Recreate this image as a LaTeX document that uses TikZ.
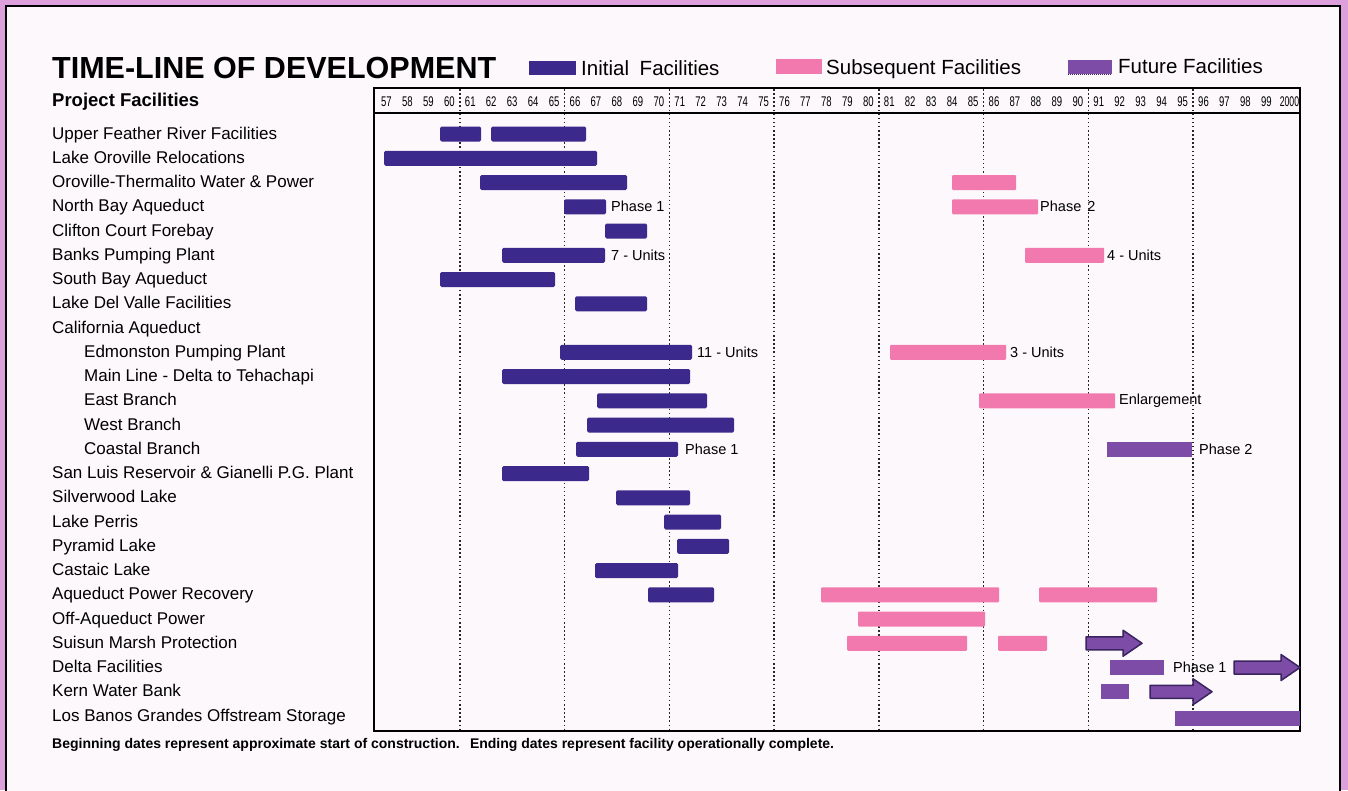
\documentclass[tikz,border=0pt]{standalone}
\usepackage{fontspec}
\setmainfont{Liberation Sans}
\definecolor{cPink}{HTML}{DDA0DD}
\definecolor{cPanel}{HTML}{FCF8FB}
\definecolor{cInit}{HTML}{3B2A8C}
\definecolor{cSub}{HTML}{F279AE}
\definecolor{cFut}{HTML}{7D4CA6}
\definecolor{cFutEdge}{HTML}{3A2460}
% bar on row #2 from x=#3 to x=#4 in style #1
\newcommand\gbar[4]{\path[#1] (#3,{134+24.25*#2-7.5}) rectangle (#4,{134+24.25*#2+7.5});}
% block arrow on row #1 from x=#2 to tip x=#3
\newcommand\garrow[3]{\path[futarrow] (#2,{134+24.25*#1-6.5}) -- ({#3-19},{134+24.25*#1-6.5}) -- ({#3-19},{134+24.25*#1-13}) -- (#3,{134+24.25*#1}) -- ({#3-19},{134+24.25*#1+13}) -- ({#3-19},{134+24.25*#1+6.5}) -- (#2,{134+24.25*#1+6.5}) -- cycle;}
% note beside a bar
\newcommand\barnote[4]{\node[notetext] (#1) at (#3,{134+24.25*#2}) {#4};}
% facility name on row #2
\newcommand\rowname[4]{\node[rowlabel] (#1) at (#3,{133+24.25*#2+6}) {#4};}
\begin{document}
\begin{tikzpicture}[x=1pt,y=-1pt,
  initial/.style={fill=cInit, rounded corners=1.5pt},
  subseq/.style={fill=cSub, rounded corners=1pt},
  future/.style={fill=cFut},
  futarrow/.style={fill=cFut, draw=cFutEdge, line width=1.5pt, line join=round},
  grid line/.style={line width=1.5pt, dash pattern=on 1.5pt off 2.6pt, color=black!85},
  rowlabel/.style={anchor=base west, inner sep=0pt, font=\fontsize{17}{20}\selectfont},
  notetext/.style={anchor=west, inner sep=0pt, font=\fontsize{14.5}{17}\selectfont},
  yearlabel/.style={anchor=base, inner sep=0pt, font=\fontsize{14}{17}\selectfont},
  legendtext/.style={anchor=base west, inner sep=0pt, font=\fontsize{20.5}{24}\selectfont},
]
\useasboundingbox (0,0) rectangle (1348,790);

% page background and white panel
\fill[cPink] (0,0) rectangle (1348,790);
\fill[cPanel] (6,6) rectangle (1340,795);
\draw[line width=1.6pt] (6,795) -- (6,6) -- (1340,6) -- (1340,795);

% headings
\node[anchor=base west, inner sep=0pt, font=\fontsize{30.5}{34}\selectfont\bfseries] (title) at (52,78) {TIME-LINE OF DEVELOPMENT};
\node[anchor=base west, inner sep=0pt, font=\fontsize{18.5}{22}\selectfont\bfseries] (colhead) at (52,106) {Project Facilities};

% legend
\fill[cInit] (529,61) rectangle (576,75);
\node[legendtext] (leginit) at (581,75) {Initial\hspace{5pt} Facilities};
\fill[cSub] (776,59) rectangle (822,74);
\node[legendtext] (legsub) at (826,74) {Subsequent Facilities};
\fill[cFut] (1068,60) rectangle (1112,74);
\draw[cFutEdge, line width=1pt, dash pattern=on 1pt off 1pt] (1068,74) -- (1112,74);
\node[legendtext] (legfut) at (1118,73) {Future Facilities};

% year axis
\foreach \yr in {57,...,99}
  \node[yearlabel] (yr\yr) at ({376+(\yr-57+0.5)*20.95},106) {\scalebox{0.68}[1]{\yr}};
\node[yearlabel] (yr100) at ({376+43.6*20.95},106) {\scalebox{0.62}[1]{2000}};

% five-year grid
\foreach \yr in {61,66,...,96}
  \draw[grid line] ({376+(\yr-57)*20.95},89) -- ({376+(\yr-57)*20.95},730);

% chart frame
\draw[line width=2.2pt] (374,88) rectangle (1300,731);
\draw[line width=1.8pt] (374,113) -- (1300,113);

% facility names
\rowname{n0}{0}{52}{Upper Feather River Facilities}
\rowname{n1}{1}{52}{Lake Oroville Relocations}
\rowname{n2}{2}{52}{Oroville-Thermalito Water \& Power}
\rowname{n3}{3}{52}{North Bay Aqueduct}
\rowname{n4}{4}{52}{Clifton Court Forebay}
\rowname{n5}{5}{52}{Banks Pumping Plant}
\rowname{n6}{6}{52}{South Bay Aqueduct}
\rowname{n7}{7}{52}{Lake Del Valle Facilities}
\rowname{n8}{8}{52}{California Aqueduct}
\rowname{n9}{9}{84}{Edmonston Pumping Plant}
\rowname{n10}{10}{84}{Main Line - Delta to Tehachapi}
\rowname{n11}{11}{84}{East Branch}
\rowname{n12}{12}{84}{West Branch}
\rowname{n13}{13}{84}{Coastal Branch}
\rowname{n14}{14}{52}{San Luis Reservoir \& Gianelli P.G. Plant}
\rowname{n15}{15}{52}{Silverwood Lake}
\rowname{n16}{16}{52}{Lake Perris}
\rowname{n17}{17}{52}{Pyramid Lake}
\rowname{n18}{18}{52}{Castaic Lake}
\rowname{n19}{19}{52}{Aqueduct Power Recovery}
\rowname{n20}{20}{52}{Off-Aqueduct Power}
\rowname{n21}{21}{52}{Suisun Marsh Protection}
\rowname{n22}{22}{52}{Delta Facilities}
\rowname{n23}{23}{52}{Kern Water Bank}
\rowname{n24}{24}{52}{Los Banos Grandes Offstream Storage}

% initial facilities
\gbar{initial}{0}{440}{481}
\gbar{initial}{0}{491}{586}
\gbar{initial}{1}{384}{597}
\gbar{initial}{2}{480}{627}
\gbar{initial}{3}{564}{606}
\gbar{initial}{4}{605}{647}
\gbar{initial}{5}{502}{605}
\gbar{initial}{6}{440}{555}
\gbar{initial}{7}{575}{647}
\gbar{initial}{9}{560}{692}
\gbar{initial}{10}{502}{690}
\gbar{initial}{11}{597}{707}
\gbar{initial}{12}{587}{734}
\gbar{initial}{13}{576}{678}
\gbar{initial}{14}{502}{589}
\gbar{initial}{15}{616}{690}
\gbar{initial}{16}{664}{721}
\gbar{initial}{17}{677}{729}
\gbar{initial}{18}{595}{678}
\gbar{initial}{19}{648}{714}

% subsequent facilities
\gbar{subseq}{2}{952}{1016}
\gbar{subseq}{3}{952}{1038}
\gbar{subseq}{5}{1025}{1104}
\gbar{subseq}{9}{890}{1006}
\gbar{subseq}{11}{979}{1115}
\gbar{subseq}{19}{821}{999}
\gbar{subseq}{19}{1039}{1157}
\gbar{subseq}{20}{858}{985}
\gbar{subseq}{21}{847}{967}
\gbar{subseq}{21}{998}{1047}

% future facilities
\gbar{future}{13}{1107}{1192}
\gbar{future}{22}{1110}{1164}
\gbar{future}{23}{1101}{1129}
\gbar{future}{24.1}{1175}{1300}
\garrow{21}{1086}{1142}
\garrow{22}{1234}{1300}
\garrow{23}{1150}{1212}

% notes beside bars
\barnote{p3a}{3}{611}{Phase 1}
\barnote{p3b}{3}{1040}{Phase\hspace{6pt}2}
\barnote{p5a}{5}{611}{7 - Units}
\barnote{p5b}{5}{1107}{4 - Units}
\barnote{p9a}{9}{697}{11 - Units}
\barnote{p9b}{9}{1010}{3 - Units}
\barnote{p11}{11}{1119}{Enlargement}
\barnote{p13a}{13}{685}{Phase 1}
\barnote{p13b}{13}{1199}{Phase 2}
\barnote{p22}{22}{1173}{Phase 1}

% footnote
\node[anchor=base west, inner sep=0pt, font=\fontsize{14}{17}\selectfont\bfseries] (foot) at (52,748) {Beginning dates represent approximate start of construction.\hspace{5pt} Ending dates represent facility operationally complete.};
\end{tikzpicture}
\end{document}
